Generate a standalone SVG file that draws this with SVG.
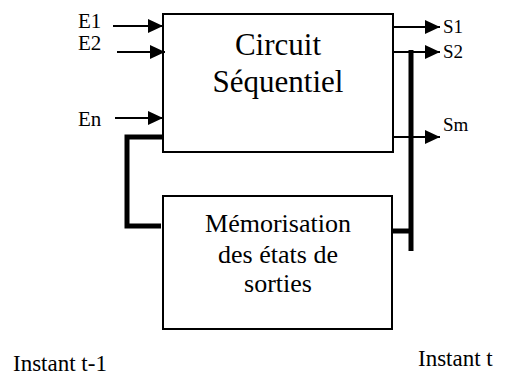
<svg xmlns="http://www.w3.org/2000/svg" width="507" height="377" viewBox="0 0 507 377">
<style>
text{font-family:"Liberation Serif","Times New Roman",serif;fill:#000}
.box{fill:#fff;stroke:#000;stroke-width:2}
.ln{stroke:#000;stroke-width:2;fill:none}
.thick{stroke:#000;stroke-width:5;fill:none}
.big{font-size:31px}
.mid{font-size:26px}
.lbl{font-size:21px}
.sl{font-size:19px}
.ins{font-size:23px}
</style>
<defs>
<marker id="ah" markerWidth="15" markerHeight="14" refX="15" refY="7" orient="auto" markerUnits="userSpaceOnUse">
<path d="M0,0 L15,7 L0,14 Z" fill="#000"/>
</marker>
</defs>
<rect width="507" height="377" fill="#fff"/>
<g id="circuit">
<rect class="box" x="163" y="14" width="230" height="138"/>
<text class="big" x="278" y="55" text-anchor="middle">Circuit</text>
<text class="big" x="278" y="92" text-anchor="middle">Séquentiel</text>
</g>
<g id="memoire">
<rect class="box" x="163" y="196" width="229" height="133"/>
<text class="mid" x="278" y="232" text-anchor="middle">Mémorisation</text>
<text class="mid" x="278" y="263" text-anchor="middle">des états de</text>
<text class="mid" x="278" y="292" text-anchor="middle">sorties</text>
</g>
<g id="connectors">
<line class="ln" x1="113" y1="26" x2="163" y2="26" marker-end="url(#ah)"/>
<line class="ln" x1="117" y1="52" x2="165" y2="52" marker-end="url(#ah)"/>
<line class="ln" x1="115" y1="118" x2="163" y2="118" marker-end="url(#ah)"/>
<line class="ln" x1="393" y1="27" x2="440" y2="27" marker-end="url(#ah)"/>
<line class="ln" x1="393" y1="52" x2="440" y2="52" marker-end="url(#ah)"/>
<line class="ln" x1="393" y1="137" x2="440" y2="137" marker-end="url(#ah)"/>
<line class="thick" x1="411" y1="50" x2="411" y2="251"/>
<line class="thick" x1="392" y1="231" x2="411" y2="231"/>
<polyline class="thick" points="163,137 127,137 127,226 161,226"/>
</g>
<g id="labels">
<text class="lbl" x="78" y="28">E1</text>
<text class="lbl" x="78" y="50">E2</text>
<text class="lbl" x="78" y="126">En</text>
<text class="sl" x="443" y="33">S1</text>
<text class="sl" x="443" y="58">S2</text>
<text class="sl" x="443" y="131">Sm</text>
<text class="ins" x="13" y="371">Instant t-1</text>
<text class="ins" x="418" y="366">Instant t</text>
</g>
</svg>
